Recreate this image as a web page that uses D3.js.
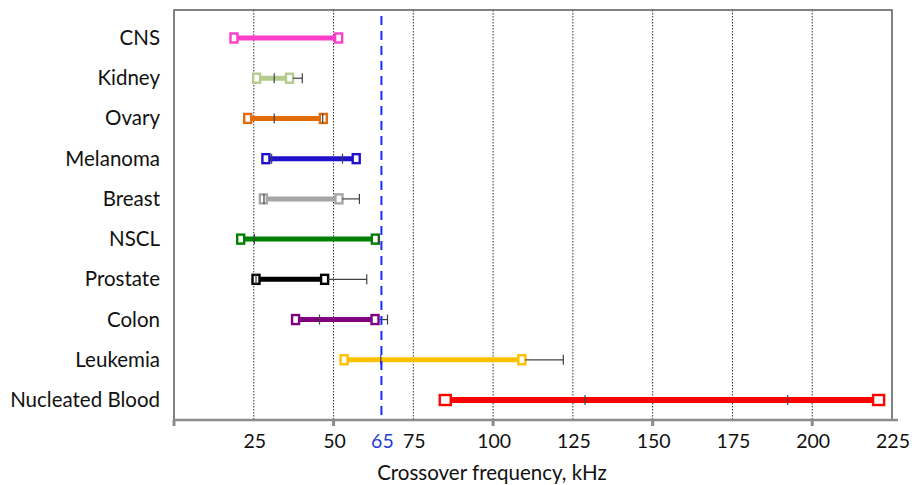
<!DOCTYPE html>
<html>
<head>
<meta charset="utf-8">
<script src="https://cdn.jsdelivr.net/npm/d3@7"></script>
<style>
  html, body { margin: 0; padding: 0; background: #fff; }
  svg { display: block; }
  text { font-family: Lato, "Open Sans", sans-serif; fill: #111; }
</style>
</head>
<body>
<svg id="chart" width="912" height="485"></svg>
<script>
// Cell types, top to bottom
const categories = ["CNS", "Kidney", "Ovary", "Melanoma", "Breast", "NSCL",
                    "Prostate", "Colon", "Leukemia", "Nucleated Blood"];
// Observed crossover-frequency range (kHz)
const rangeMin = [18.8, 25.9, 23.1, 28.8, 28.0, 20.9, 25.7, 38.1, 53.3, 85.0];
const rangeMax = [51.6, 36.2, 46.8, 57.1, 51.7, 63.1, 47.2, 63.0, 109.0, 220.8];
// Spread whiskers (kHz); null where none is shown
const spreadLo = [null, 31.4, 31.4, 30.6, 28.2, 25.2, 25.7, 45.6, 64.8, 128.8];
const spreadHi = [null, 40.2, 46.6, 52.8, 58.1, 64.1, 60.4, 66.9, 122.0, 192.3];
// Series colours
const colors = ["#ff3dc8", "#b4cb8c", "#e36c0a", "#2211cc", "#a6a6a6", "#008000",
                "#000000", "#800080", "#ffc000", "#ff0000"];
// Axis
const tickValues = [25, 50, 65, 75, 100, 125, 150, 175, 200, 225];
const gridValues = [25, 50, 75, 100, 125, 150, 175, 200];
const majorTicks = [0, 50, 100, 150, 200];
const cutoff = 65;
const axisTitle = "Crossover frequency, kHz";

const rows = categories.map((c, i) => ({
  name: c, min: rangeMin[i], max: rangeMax[i],
  lo: spreadLo[i], hi: spreadHi[i], color: colors[i]
}));

const plotL = 174, plotR = 892, plotT = 10, plotB = 420;
const svg = d3.select("#chart");

const x = d3.scaleLinear().domain([0, 225]).range([plotL, plotR]);
const y = d3.scalePoint().domain(categories).range([38, 400]);

// dotted vertical gridlines
svg.append("g").selectAll("line").data(gridValues).join("line")
  .attr("x1", d => x(d)).attr("x2", d => x(d))
  .attr("y1", plotT).attr("y2", plotB)
  .attr("stroke", "#333").attr("stroke-width", 1)
  .attr("stroke-dasharray", "1.5,1.5");

// frame
svg.append("path")
  .attr("d", `M${plotL},${plotB}V${plotT}H${plotR}V${plotB}`)
  .attr("fill", "none").attr("stroke", "#595959").attr("stroke-width", 1.5);

// x axis line and major ticks
svg.append("line")
  .attr("x1", plotL).attr("x2", plotR + 6).attr("y1", plotB).attr("y2", plotB)
  .attr("stroke", "#8c8c8c").attr("stroke-width", 2.5);
svg.append("g").selectAll("line").data(majorTicks).join("line")
  .attr("x1", d => x(d)).attr("x2", d => x(d))
  .attr("y1", plotB).attr("y2", plotB + 6)
  .attr("stroke", "#8c8c8c").attr("stroke-width", 3);

// tick labels
svg.append("g").selectAll("text").data(tickValues).join("text")
  .attr("x", d => x(d) + 1).attr("y", 448)
  .attr("text-anchor", "middle")
  .style("font-size", "19.5px")
  .style("fill", d => d === cutoff ? "#1f3fd6" : "#111")
  .text(d => d);

// axis title
svg.append("text")
  .attr("x", 492).attr("y", 480).attr("text-anchor", "middle")
  .style("font-size", "20.5px").text(axisTitle);

// category labels
svg.append("g").selectAll("text").data(categories).join("text")
  .attr("x", 160).attr("y", d => y(d) + 7).attr("text-anchor", "end")
  .style("font-size", "20.5px").text(d => d);

// range bars
const g = svg.append("g");
g.selectAll("line.bar").data(rows).join("line").attr("class", "bar")
  .attr("x1", d => x(d.min)).attr("x2", d => x(d.max))
  .attr("y1", d => y(d.name)).attr("y2", d => y(d.name))
  .attr("stroke", d => d.color).attr("stroke-width", d => d.name === "Nucleated Blood" ? 6 : 5);

// end markers (hollow squares)
const markerW = d => d.name === "Nucleated Blood" ? 11 : 7;
const markerH = d => d.name === "Nucleated Blood" ? 10 : 9;
const ends = rows.flatMap(d => [{ r: d, v: d.min }, { r: d, v: d.max }]);
g.selectAll("rect.marker").data(ends).join("rect").attr("class", "marker")
  .attr("x", d => x(d.v) - markerW(d.r) / 2)
  .attr("y", d => y(d.r.name) - markerH(d.r) / 2)
  .attr("width", d => markerW(d.r)).attr("height", d => markerH(d.r))
  .attr("fill", "#fff").attr("stroke", d => d.r.color).attr("stroke-width", 2.4);

// spread whiskers: the part beyond the bar, plus end caps
const spread = rows.filter(d => d.lo != null);
g.selectAll("line.whisker").data(spread.filter(d => d.hi > d.max)).join("line")
  .attr("class", "whisker")
  .attr("x1", d => x(d.max) + markerW(d) / 2).attr("x2", d => x(d.hi))
  .attr("y1", d => y(d.name)).attr("y2", d => y(d.name))
  .attr("stroke", "#404040").attr("stroke-width", 1.2);
const caps = spread.flatMap(d => [{ r: d, v: d.lo }, { r: d, v: d.hi }]);
g.selectAll("line.cap").data(caps).join("line").attr("class", "cap")
  .attr("x1", d => x(d.v)).attr("x2", d => x(d.v))
  .attr("y1", d => y(d.r.name) - 5).attr("y2", d => y(d.r.name) + 5)
  .attr("stroke", "#404040").attr("stroke-width", 1.2);

// 65 kHz cutoff
svg.append("line")
  .attr("x1", x(cutoff)).attr("x2", x(cutoff))
  .attr("y1", plotT + 6).attr("y2", plotB)
  .attr("stroke", "#1a2cff").attr("stroke-width", 2)
  .attr("stroke-dasharray", "9,6");
</script>
</body>
</html>
